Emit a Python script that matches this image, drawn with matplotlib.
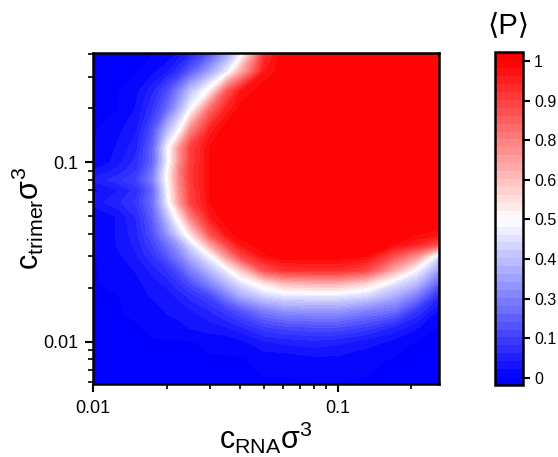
import numpy as np
import matplotlib
matplotlib.use("Agg")
import matplotlib.pyplot as plt
from matplotlib.ticker import FuncFormatter, NullFormatter, LogLocator

plt.rcParams["font.family"] = ["Liberation Sans", "DejaVu Sans"]
plt.rcParams["mathtext.fontset"] = "custom"
plt.rcParams["mathtext.rm"] = "Liberation Sans"
plt.rcParams["mathtext.it"] = "Liberation Sans:italic"

# ── data: <P> on a (c_trimer, c_RNA) grid ───────────────────────────────────
c_rna = [0.01, 0.0125, 0.015, 0.0175, 0.02, 0.0225, 0.025, 0.03, 0.035,
         0.04, 0.05, 0.06, 0.08, 0.1, 0.13, 0.17, 0.21, 0.26]
c_trimer = [0.0058, 0.008, 0.01, 0.012, 0.015, 0.018, 0.021, 0.025, 0.03,
            0.035, 0.04, 0.05, 0.06, 0.07, 0.08, 0.09, 0.1, 0.12, 0.15,
            0.2, 0.25, 0.32, 0.41]

# one row per c_trimer value (bottom -> top), one column per c_rna value
p_0058 = [0, 0, 0, 0, 0, 0, 0, 0, 0, 0, 0, 0, 0, 0, 0, 0, 0, 0]
p_008 = [0, 0, 0, 0, 0, 0, 0, 0, 0, 0, 0.01, 0.01, 0.02, 0.02, 0.01, 0, 0, 0]
p_010 = [0, 0, 0, 0, 0, 0, 0, 0.01, 0.01, 0.02, 0.05, 0.06, 0.07, 0.06, 0.04, 0.02, 0, 0]
p_012 = [0, 0, 0, 0.01, 0.02, 0.02, 0.03, 0.04, 0.05, 0.07, 0.12, 0.14, 0.15, 0.15, 0.12, 0.07, 0.03, 0]
p_015 = [0, 0, 0.01, 0.02, 0.03, 0.04, 0.05, 0.08, 0.12, 0.17, 0.25, 0.29, 0.30, 0.30, 0.26, 0.22, 0.11, 0.02]
p_018 = [0, 0, 0.02, 0.03, 0.04, 0.06, 0.09, 0.14, 0.24, 0.33, 0.41, 0.44, 0.45, 0.45, 0.42, 0.34, 0.24, 0.08]
p_021 = [0, 0.01, 0.02, 0.04, 0.06, 0.10, 0.15, 0.25, 0.35, 0.43, 0.54, 0.62, 0.64, 0.64, 0.58, 0.44, 0.36, 0.18]
p_025 = [0, 0.01, 0.03, 0.06, 0.10, 0.16, 0.24, 0.36, 0.46, 0.60, 0.84, 0.90, 0.91, 0.91, 0.86, 0.66, 0.48, 0.30]
p_030 = [0, 0.02, 0.05, 0.10, 0.17, 0.25, 0.34, 0.48, 0.70, 0.86, 0.97, 1, 1, 1, 0.98, 0.84, 0.72, 0.42]
p_035 = [0, 0.03, 0.06, 0.13, 0.22, 0.31, 0.43, 0.68, 0.86, 0.96, 1, 1, 1, 1, 1, 0.98, 0.93, 0.84]
p_040 = [0, 0.03, 0.07, 0.16, 0.29, 0.42, 0.56, 0.84, 0.96, 1, 1, 1, 1, 1, 1, 1, 0.98, 0.97]
p_050 = [0, 0.03, 0.08, 0.19, 0.37, 0.55, 0.76, 0.95, 1, 1, 1, 1, 1, 1, 1, 1, 1, 1]
p_060 = [0.04, 0.07, 0.11, 0.22, 0.45, 0.70, 0.87, 0.98, 1, 1, 1, 1, 1, 1, 1, 1, 1, 1]
p_070 = [0.02, 0.05, 0.09, 0.20, 0.47, 0.72, 0.88, 0.98, 1, 1, 1, 1, 1, 1, 1, 1, 1, 1]
p_080 = [0.06, 0.09, 0.13, 0.25, 0.50, 0.74, 0.89, 0.98, 1, 1, 1, 1, 1, 1, 1, 1, 1, 1]
p_090 = [0.03, 0.06, 0.10, 0.23, 0.49, 0.75, 0.89, 0.98, 1, 1, 1, 1, 1, 1, 1, 1, 1, 1]
p_100 = [0, 0.04, 0.09, 0.20, 0.46, 0.72, 0.88, 0.98, 1, 1, 1, 1, 1, 1, 1, 1, 1, 1]
p_120 = [0, 0.03, 0.07, 0.20, 0.47, 0.71, 0.88, 0.98, 1, 1, 1, 1, 1, 1, 1, 1, 1, 1]
p_150 = [0, 0.02, 0.05, 0.16, 0.36, 0.50, 0.74, 0.94, 1, 1, 1, 1, 1, 1, 1, 1, 1, 1]
p_200 = [0, 0, 0.03, 0.10, 0.20, 0.34, 0.48, 0.78, 0.93, 0.99, 1, 1, 1, 1, 1, 1, 1, 1]
p_250 = [0, 0, 0.02, 0.07, 0.15, 0.26, 0.38, 0.53, 0.82, 0.95, 1, 1, 1, 1, 1, 1, 1, 1]
p_320 = [0, 0, 0, 0.02, 0.05, 0.10, 0.18, 0.32, 0.45, 0.66, 0.95, 1, 1, 1, 1, 1, 1, 1]
p_410 = [0, 0, 0, 0, 0, 0.03, 0.06, 0.16, 0.30, 0.44, 0.90, 1, 1, 1, 1, 1, 1, 1]

cbar_ticks = [0, 0.125, 0.25, 0.375, 0.5, 0.625, 0.75, 0.875, 1]
cbar_labels = ["0", "0.1", "0.3", "0.4", "0.5", "0.6", "0.8", "0.9", "1"]

P = np.array([p_0058, p_008, p_010, p_012, p_015, p_018, p_021, p_025, p_030,
              p_035, p_040, p_050, p_060, p_070, p_080, p_090, p_100, p_120,
              p_150, p_200, p_250, p_320, p_410])
X, Y = np.meshgrid(c_rna, c_trimer)

fig = plt.figure(figsize=(5.58, 4.57), dpi=100)
ax = fig.add_axes([0.1672, 0.1591, 0.6195, 0.726])
cax = fig.add_axes([0.8871, 0.1575, 0.0502, 0.728])

levels = np.linspace(-0.0225, 1.0275, 43)
cs = ax.contourf(X, Y, P, levels=levels, cmap="bwr", vmin=0, vmax=1)
ax.set_xscale("log")
ax.set_yscale("log")
ax.set_xlim(c_rna[0], c_rna[-1])
ax.set_ylim(c_trimer[0], c_trimer[-1])

fmt = FuncFormatter(lambda v, _: f"{v:g}")
for axis in (ax.xaxis, ax.yaxis):
    axis.set_major_locator(LogLocator(base=10))
    axis.set_minor_locator(LogLocator(base=10, subs=np.arange(2, 10)))
    axis.set_major_formatter(fmt)
    axis.set_minor_formatter(NullFormatter())
ax.tick_params(which="major", direction="out", length=6, width=1.5, labelsize=13, pad=5)
ax.tick_params(which="minor", direction="out", length=3.5, width=1.2)
for sp in ax.spines.values():
    sp.set_linewidth(1.8)

ax.set_xlabel(r"$\mathrm{c_{RNA}\sigma^3}$", fontsize=22, labelpad=2)
ax.set_ylabel(r"$\mathrm{c_{trimer}\sigma^3}$", fontsize=22, labelpad=-2)

cb = fig.colorbar(cs, cax=cax)
cb.set_ticks(cbar_ticks)
cb.set_ticklabels(cbar_labels)
cb.ax.tick_params(direction="out", length=5, width=1.5, labelsize=11.5, pad=3)
cb.outline.set_linewidth(1.8)
cb.ax.minorticks_off()
fig.text(0.912, 0.945, "\u27e8P\u27e9", fontsize=21, ha="center", va="center")

fig.savefig("out.png", dpi=100)
